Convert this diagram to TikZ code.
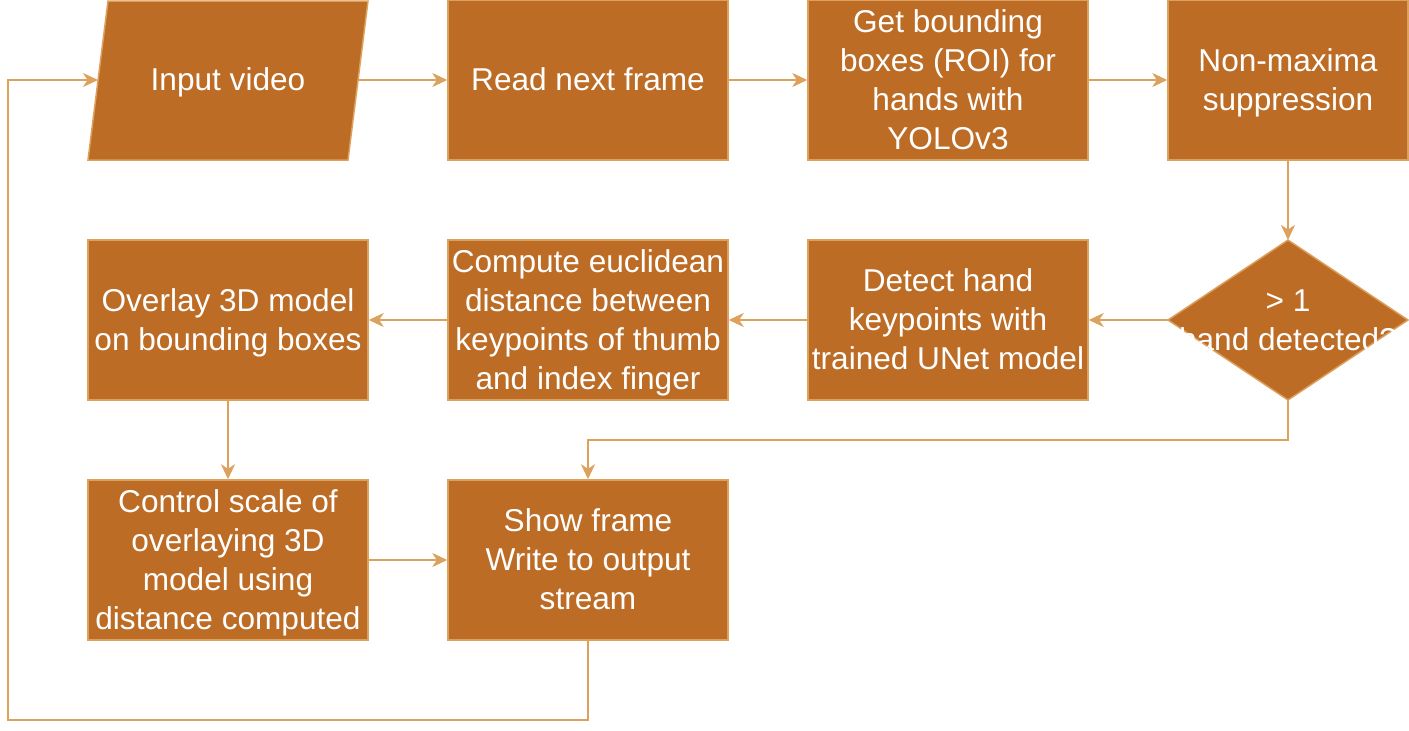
\documentclass[tikz,border=0pt]{standalone}
\usepackage{fontspec}
\setmainfont{Liberation Sans}
\usetikzlibrary{arrows.meta}
\definecolor{boxfill}{HTML}{BC6C25}
\definecolor{edge}{HTML}{DDA15E}
\newcommand{\ls}{\rule[-8.6pt]{0pt}{39pt}}
\tikzset{
  procbox/.style={draw=edge, line width=1.5pt, fill=boxfill, minimum width=280pt, minimum height=160pt, inner sep=0pt, text=white, align=center, font=\fontsize{31.6}{39}\selectfont},
  lbl/.style={inner sep=0pt, text=white, align=center, font=\fontsize{31.6}{39}\selectfont},
  conn/.style={draw=edge, line width=2pt, -{Stealth[length=15pt,width=14pt,inset=4.5pt]}},
}
\begin{document}
\begin{tikzpicture}[x=1pt,y=-1pt]
\useasboundingbox (0,0) rectangle (1409,731);
% parallelogram
\filldraw[draw=edge, line width=1.5pt, fill=boxfill] (108,1) -- (368,1) -- (348,160) -- (88,160) -- cycle;
\node[lbl] (input) at (228,80) {\ls Input video};
\coordinate (inL) at (98,80);
\coordinate (inR) at (358,80);
\node[procbox] (read) at (588,80) {\ls Read next frame};
\node[procbox] (get) at (948,80) {\ls Get bounding\\\ls boxes (ROI) for\\\ls hands with\\\ls YOLOv3};
\node[procbox, minimum width=240pt] (nms) at (1288,80) {\ls Non-maxima\\\ls suppression};
% diamond
\filldraw[draw=edge, line width=1.5pt, fill=boxfill] (1288,240) -- (1408,320) -- (1288,400) -- (1168,320) -- cycle;
\coordinate (dT) at (1288,240);
\coordinate (dL) at (1168,320);
\coordinate (dB) at (1288,400);
\node[lbl] (dec) at (1288,320) {\ls > 1\\\ls hand detected?};
\node[procbox] (detect) at (948,320) {\ls Detect hand\\\ls keypoints with\\\ls trained UNet model};
\node[procbox] (comp) at (588,320) {\ls Compute euclidean\\\ls distance between\\\ls keypoints of thumb\\\ls and index finger};
\node[procbox] (overlay) at (228,320) {\ls Overlay 3D model\\\ls on bounding boxes};
\node[procbox] (ctrl) at (228,560) {\ls Control scale of\\\ls overlaying 3D\\\ls model using\\\ls distance computed};
\node[procbox] (show) at (588,560) {\ls Show frame\\\ls Write to output\\\ls stream};
% connectors
\draw[conn] (inR) -- (read.west);
\draw[conn] (read.east) -- (get.west);
\draw[conn] (get.east) -- (nms.west);
\draw[conn] (nms.south) -- (dT);
\draw[conn] (dL) -- (detect.east);
\draw[conn] (detect.west) -- (comp.east);
\draw[conn] (comp.west) -- (overlay.east);
\draw[conn] (overlay.south) -- (ctrl.north);
\draw[conn] (ctrl.east) -- (show.west);
\draw[conn] (dB) -- (1288,440) -- (588,440) -- (show.north);
\draw[conn] (show.south) -- (588,720) -- (8,720) -- (8,80) -- (inL);
\end{tikzpicture}
\end{document}
